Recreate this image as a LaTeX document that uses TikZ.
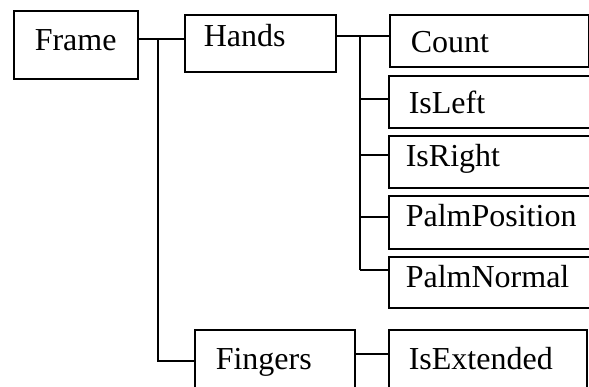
\documentclass[tikz,border=0pt]{standalone}
\usepackage{fontspec}
\setmainfont{Liberation Serif}
\begin{document}
\begin{tikzpicture}[x=1pt,y=-1pt,line width=1.6pt,
  box/.style={draw,rectangle,inner sep=0pt,anchor=north west},
  lbl/.style={anchor=base west,inner sep=0pt,font=\fontsize{32}{37}\selectfont},
  link/.style={line width=1.6pt}]
\useasboundingbox (0,0) rectangle (589,387);
\clip (0,0) rectangle (589,387);
% boxes: corners in picture units
\newcommand\mkbox[5]{\node[box,minimum width=#4-#2,minimum height=#5-#3] (#1) at (#2,#3) {};}
\mkbox{frame}{13}{10}{137}{78}
\mkbox{hands}{184}{14}{335}{71}
\mkbox{fingers}{194}{329}{354}{400}
\mkbox{count}{389}{14}{588}{66}
\mkbox{isleft}{388}{75}{600}{127}
\mkbox{isright}{388}{135}{600}{187}
\mkbox{palmpos}{388}{195}{600}{248}
\mkbox{palmnorm}{388}{256}{600}{307}
\mkbox{isext}{388}{329}{586}{400}
% texts
\node[lbl] (tframe) at (34,51) {Frame};
\node[lbl] (thands) at (203,47) {Hands};
\node[lbl] (tfingers) at (215,369) {Fingers};
\node[lbl] (tcount) at (410,53) {Count};
\node[lbl] (tisleft) at (408,114) {IsLeft};
\node[lbl] (tisright) at (405,167) {IsRight};
\node[lbl] (tpalmpos) at (405,227) {PalmPosition};
\node[lbl] (tpalmnorm) at (405,288) {PalmNormal};
\node[lbl] (tisext) at (408,369) {IsExtended};
% frame branches
\coordinate (fj) at (158,39);
\draw[link] (frame.east |- fj) -- (hands.west |- fj);
\draw[link] (fj) |- (fingers.west |- 0,361);
% hands branches
\coordinate (hj) at (360,36);
\draw[link] (hands.east |- hj) -- (count.west |- hj);
\draw[link] (hj) -- (360,270);
\draw[link] (360,99) -- (isleft.west |- 0,99);
\draw[link] (360,155) -- (isright.west |- 0,155);
\draw[link] (360,217) -- (palmpos.west |- 0,217);
\draw[link] (360,270) -- (palmnorm.west |- 0,270);
% fingers branch
\draw[link] (fingers.east |- 0,354) -- (isext.west |- 0,354);
\end{tikzpicture}
\end{document}
